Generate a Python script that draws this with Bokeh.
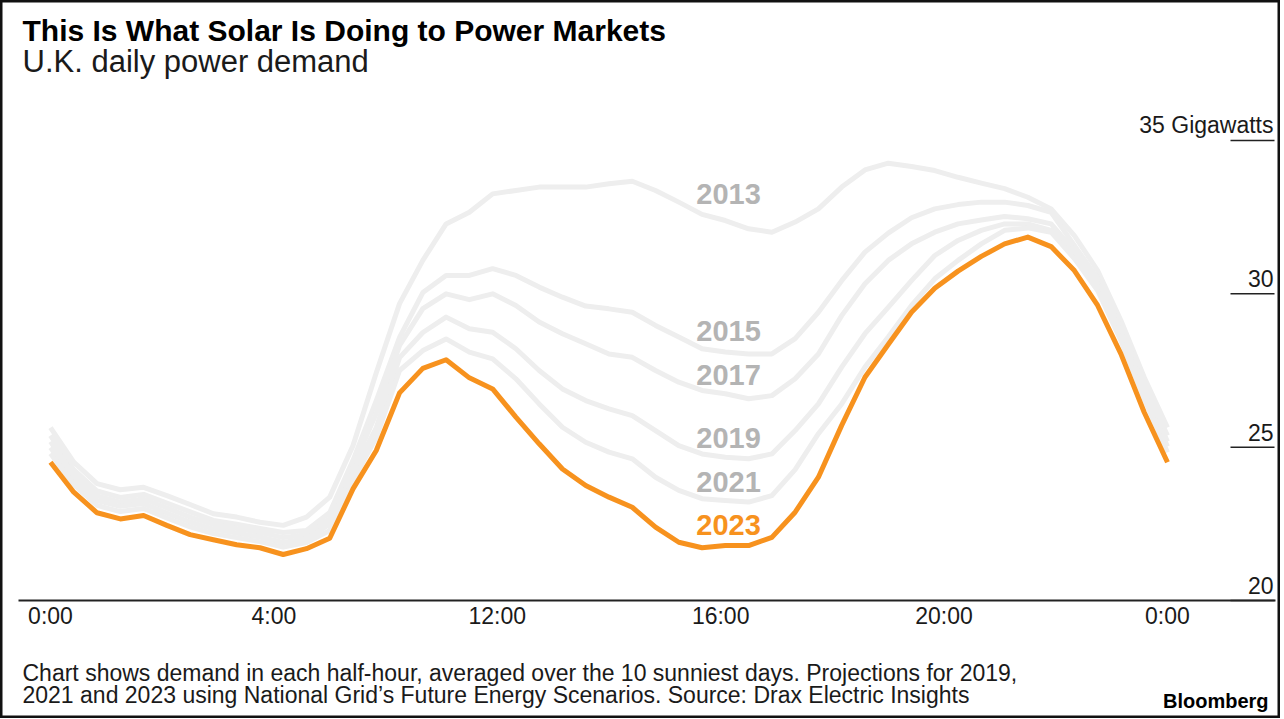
from bokeh.plotting import figure
from bokeh.models import ColumnDataSource, Label, Range1d
from bokeh.core.properties import value
from bokeh.embed import file_html
from bokeh.resources import INLINE

# ---------------- data ----------------
half_hours = list(range(49))  # half-hour slots, 0:00 .. 0:00 next day

d2013 = [25.64, 24.51, 23.81, 23.61, 23.69, 23.42, 23.13, 22.83, 22.72, 22.55,
         22.45, 22.72, 23.37, 25.05, 27.43, 29.68, 31.09, 32.28, 32.66, 33.26,
         33.37, 33.48, 33.48, 33.48, 33.59, 33.67, 33.37, 32.99, 32.59, 32.39,
         32.12, 32.01, 32.34, 32.77, 33.48, 34.04, 34.26, 34.15, 34.02, 33.80,
         33.61, 33.43, 33.15, 32.77, 31.90, 30.76, 29.13, 27.28, 25.64]
d2015 = [25.38, 24.27, 23.57, 23.36, 23.46, 23.18, 22.89, 22.61, 22.49, 22.35,
         22.22, 22.28, 22.87, 24.57, 26.52, 28.58, 30.04, 30.60, 30.60, 30.82,
         30.60, 30.22, 29.89, 29.60, 29.51, 29.40, 28.97, 28.59, 28.21, 28.10,
         28.04, 28.04, 28.54, 29.40, 30.43, 31.36, 31.98, 32.48, 32.77, 32.91,
         32.99, 32.99, 32.88, 32.66, 31.58, 30.50, 28.87, 27.01, 25.38]
d2017 = [25.18, 24.11, 23.41, 23.21, 23.31, 23.02, 22.72, 22.48, 22.35, 22.22,
         22.05, 22.15, 22.67, 24.37, 26.10, 28.32, 29.52, 30.00, 29.81, 30.00,
         29.62, 29.08, 28.70, 28.37, 28.04, 27.93, 27.50, 27.12, 26.85, 26.74,
         26.58, 26.68, 27.23, 28.04, 29.29, 30.33, 31.09, 31.63, 32.01, 32.28,
         32.41, 32.52, 32.45, 32.28, 31.41, 30.37, 28.74, 26.85, 25.18]
d2019 = [24.99, 23.95, 23.26, 23.07, 23.16, 22.85, 22.56, 22.33, 22.20, 22.07,
         21.89, 22.02, 22.48, 24.17, 25.64, 27.92, 28.74, 29.24, 28.86, 28.75,
         28.21, 27.50, 26.90, 26.52, 26.25, 26.03, 25.54, 25.05, 24.78, 24.67,
         24.62, 24.78, 25.54, 26.41, 27.61, 28.70, 29.56, 30.43, 31.25, 31.74,
         32.07, 32.28, 32.28, 32.07, 31.28, 30.27, 28.61, 26.75, 25.02]
d2021 = [24.79, 23.78, 23.10, 22.90, 23.00, 22.69, 22.40, 22.18, 22.05, 21.92,
         21.74, 21.89, 22.28, 23.91, 25.32, 27.50, 28.15, 28.53, 28.10, 27.88,
         27.23, 26.41, 25.65, 25.16, 24.84, 24.62, 24.02, 23.59, 23.32, 23.26,
         23.21, 23.42, 24.27, 25.44, 26.41, 27.61, 28.59, 29.62, 30.49, 31.09,
         31.63, 32.07, 32.15, 32.01, 31.15, 30.11, 28.48, 26.59, 24.83]
d2023 = [24.51, 23.53, 22.86, 22.66, 22.77, 22.45, 22.15, 21.98, 21.82, 21.72,
         21.50, 21.69, 22.03, 23.64, 24.89, 26.77, 27.57, 27.85, 27.26, 26.90,
         25.98, 25.11, 24.29, 23.75, 23.37, 23.04, 22.39, 21.90, 21.72, 21.79,
         21.79, 22.06, 22.88, 24.02, 25.71, 27.28, 28.35, 29.40, 30.18, 30.74,
         31.22, 31.63, 31.85, 31.54, 30.76, 29.62, 28.04, 26.14, 24.51]

years = ["2013", "2015", "2017", "2019", "2021", "2023"]

x_tick_positions = [0, 9.6, 19.2, 28.8, 38.4, 48]
x_tick_labels = ["0:00", "4:00", "12:00", "16:00", "20:00", "0:00"]
y_ticks = [20, 25, 30, 35]
y_tick_labels = ["20", "25", "30", "35 Gigawatts"]

title_text = "This Is What Solar Is Doing to Power Markets"
subtitle_text = "U.K. daily power demand"
note_line1 = "Chart shows demand in each half-hour, averaged over the 10 sunniest days. Projections for 2019,"
note_line2 = "2021 and 2023 using National Grid\u2019s Future Energy Scenarios. Source: Drax Electric Insights"
brand_text = "Bloomberg"

# ---------------- layout / styling ----------------
W, H = 1280, 718
PX_X = 23.27      # pixels per half-hour slot
X0_PX = 50        # pixel of slot 0
PX_Y = 30.667     # pixels per GW
Y20_PX = 600      # pixel of the 20 GW baseline

FONT = "Liberation Sans"
GRAY_LINE = "#eeeeee"
GRAY_TEXT = "#b4b4b4"
ORANGE = "#f7921e"
INK = "#1a1a1a"

def px_to_x(px):
    return (px - X0_PX) / PX_X

series = [d2013, d2015, d2017, d2019, d2021, d2023]

p = figure(width=W, height=H, output_backend="svg", toolbar_location=None,
           x_range=Range1d(px_to_x(0), px_to_x(W)),
           y_range=Range1d(20 - (H - Y20_PX) / PX_Y, 20 + Y20_PX / PX_Y),
           x_axis_location=None, y_axis_location=None,
           min_border_left=0, min_border_right=0,
           min_border_top=0, min_border_bottom=0)
p.outline_line_color = "#111111"
p.outline_line_width = 4
p.background_fill_color = "white"
p.border_fill_color = "white"
p.xgrid.visible = False
p.ygrid.visible = False

# baseline (x axis rule)
p.segment(x0=[px_to_x(18)], x1=[px_to_x(1275)], y0=[y_ticks[0]], y1=[y_ticks[0]],
          line_color="#222222", line_width=2)

# short value rules on the right
n = len(y_ticks)
p.segment(x0=[px_to_x(1230)] * n, x1=[px_to_x(1274)] * n, y0=y_ticks, y1=y_ticks,
          line_color="#222222", line_width=1.5)

# lines
for s in series[:-1]:
    p.line(half_hours, s, line_color=GRAY_LINE, line_width=5, line_join="round")
p.line(half_hours, d2023, line_color=ORANGE, line_width=5, line_join="round")

# year labels, anchored at the 16:00 slot of each series
label_slot = 29
lab_src = ColumnDataSource(dict(
    x=[label_slot + 0.14] * len(years),
    y=[s[label_slot] for s in series],
    text=years,
    color=[GRAY_TEXT] * 5 + [ORANGE],
    yoff=[-27, -21, -19, -19, -19, -21],
))
p.text(x="x", y="y", text="text", source=lab_src, text_color="color",
       text_font=value(FONT), text_font_style="bold", text_font_size="29px",
       text_align="center", text_baseline="middle", y_offset="yoff")

# x tick labels
p.text(x=x_tick_positions, y=[y_ticks[0]] * len(x_tick_positions), text=x_tick_labels,
       text_font=value(FONT), text_font_size="23px", text_color=INK,
       text_align="center", text_baseline="middle", y_offset=15)

# value labels above the right rules
p.text(x=[px_to_x(1273)] * n, y=y_ticks, text=y_tick_labels,
       text_font=value(FONT), text_font_size="23px", text_color=INK,
       text_align="right", text_baseline="middle", y_offset=-15)

# titles and notes (screen units from the bottom-left of the canvas; y = text centre)
def note(x, y_from_top, text, size, bold=False, align="left", color=INK):
    p.add_layout(Label(x=x, y=H - y_from_top, x_units="screen", y_units="screen", text=text,
                       text_font=FONT, text_font_style="bold" if bold else "normal",
                       text_font_size=size, text_color=color, text_align=align,
                       text_baseline="middle"))

note(22, 30, title_text, "30px", bold=True, color="#000000")
note(22, 61, subtitle_text, "31px")
note(22, 672, note_line1, "23px")
note(22, 694, note_line2, "23px")
note(1268, 700, brand_text, "20px", bold=True, align="right", color="#000000")

open("out.html", "w").write(file_html(p, INLINE))
